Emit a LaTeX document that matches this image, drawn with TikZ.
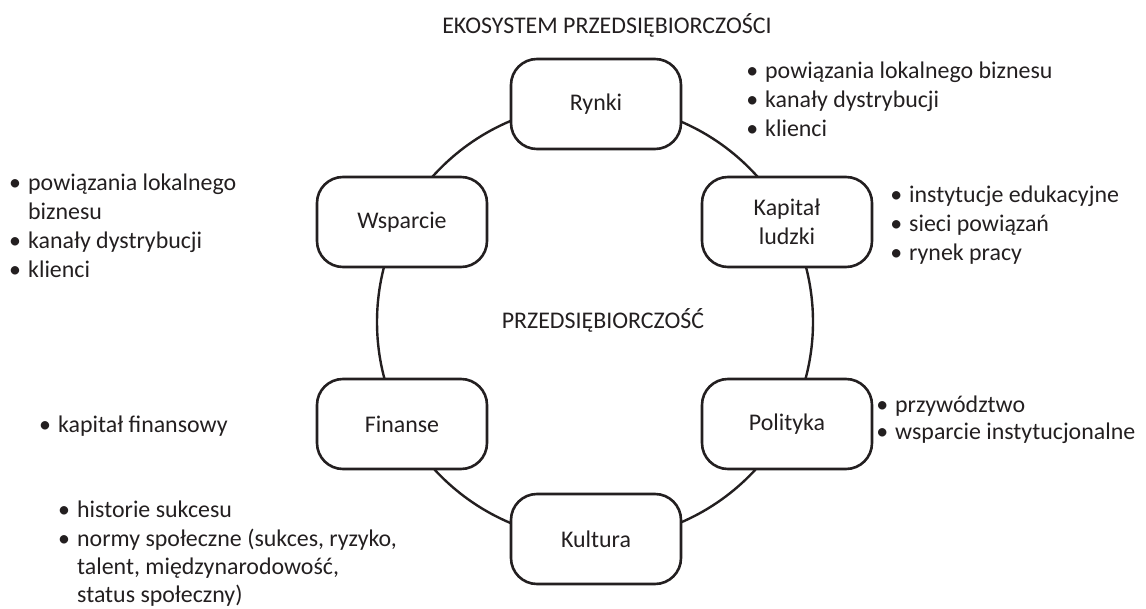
\documentclass[tikz,border=0pt]{standalone}
\usepackage{fontspec}
\setmainfont{Carlito}
\definecolor{ink}{HTML}{231F20}

\begin{document}
\begin{tikzpicture}[
    x=1pt, y=-1pt,
    every node/.style={font=\fontsize{23.9}{29}\selectfont, text=ink},
    area/.style={draw=ink, line width=2.6pt, fill=white, rounded corners=26pt,
                 minimum width=170pt, minimum height=90pt, align=center},
    list/.style={align=left, anchor=north west, inner sep=0pt},
    tight/.style={font=\fontsize{23.9}{27.5}\selectfont},
    head/.style={anchor=base, inner sep=0pt},
]
\def\bl{\makebox[26pt][c]{\textbullet}}
\def\ind{\hspace*{26pt}}

\useasboundingbox (0,0) rectangle (1146,609);

% ---------------- ring and titles
\coordinate (c) at (595,322);
\draw[ink, line width=2.4pt] (c) circle[radius=218pt];
\node[head] (title) at (607,34) {EKOSYSTEM PRZEDSIĘBIORCZOŚCI};
\node[head] (core) at (603,329) {PRZEDSIĘBIORCZOŚĆ};

% ---------------- areas on the ring
\node[area] (rynki)    at (596,104) {Rynki};
\node[area] (wsparcie) at (402,222) {Wsparcie};
\node[area] (kapital)  at (787,222) {Kapitał\\ludzki};
\node[area] (finanse)  at (402,424) {Finanse};
\node[area] (polityka) at (787,424) {Polityka};
\node[area] (kultura)  at (596,539) {Kultura};

% ---------------- bullet lists
\node[list] (rynkilist) at (739,58)
    {\strut\bl powiązania lokalnego biznesu\\ \bl kanały dystrybucji\\ \bl klienci};
\node[list] (kapitallist) at (883,182)
    {\strut\bl instytucje edukacyjne\\ \bl sieci powiązań\\ \bl rynek pracy};
\node[list] (wsparcielist) at (2,170)
    {\strut\bl powiązania lokalnego\\ \ind biznesu\\ \bl kanały dystrybucji\\ \bl klienci};
\node[list, tight] (politykalist) at (869,393)
    {\strut\bl przywództwo\\ \bl wsparcie instytucjonalne};
\node[list] (finanselist) at (32,412)
    {\strut\bl kapitał finansowy};
\node[list, font=\fontsize{23.9}{28.2}\selectfont] (kulturalist) at (51,498)
    {\strut\bl historie sukcesu\\ \bl normy społeczne (sukces, ryzyko,\\
     \ind talent, międzynarodowość,\\ \ind status społeczny)};
\end{tikzpicture}
\end{document}
